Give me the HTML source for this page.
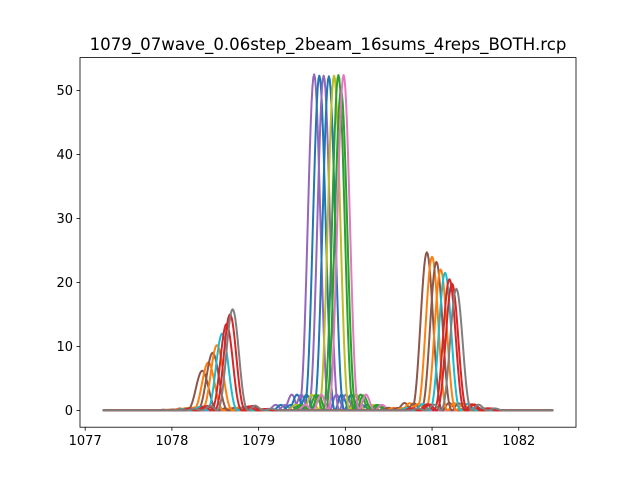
<!DOCTYPE html>
<html><head><meta charset="utf-8"><style>
body{margin:0;background:#fff;}
svg{display:block;font-family:"DejaVu Sans","Liberation Sans",sans-serif;}
</style></head><body>
<svg id="chart" width="640" height="480">
<rect width="640" height="480" fill="#fff"/>
<text x="328" y="50" font-size="16.6" text-anchor="middle">1079_07wave_0.06step_2beam_16sums_4reps_BOTH.rcp</text>
<g id="plot"></g>
<rect x="80" y="57.6" width="496" height="369.6" fill="none" stroke="#000" stroke-width="0.8"/>
<g id="xaxis"></g>
<g id="yaxis"></g>
</svg>
<script>
const xTicks=[1077,1078,1079,1080,1081,1082];
const yTicks=[0,10,20,30,40,50];
const centerPeaks=[1079.64,1079.70,1079.75,1079.81,1079.87,1079.92,1079.95,1079.98];
const centerHeights=[52.5,52.3,52.3,52.2,52.3,52.4,50,52.4];
const centerColors=['#9467bd','#1f77b4','#9467bd','#1f77b4','#bcbd22','#2ca02c','#2ca02c','#e377c2'];
const leftPeaks=[1078.35,1078.42,1078.47,1078.52,1078.58,1078.63,1078.67,1078.70];
const leftHeights=[6.2,7.5,9.0,10.2,12.0,13.5,15.0,15.8];
const rightPeaks=[1080.94,1081.00,1081.05,1081.10,1081.15,1081.20,1081.23,1081.28];
const rightHeights=[24.7,24.0,23.2,22.0,21.5,20.5,19.8,19.0];
const sideColors=['#8c564b','#ff7f0e','#8c564b','#ff7f0e','#17becf','#d62728','#d62728','#7f7f7f'];
const xMin=1077.2,xMax=1082.4;
const L=80,R=576,T=57.6,B=427.2,xlo=1076.94,xhi=1082.66,ylo=-2.625,yhi=55.125;
function X(v){return L+(v-xlo)/(xhi-xlo)*(R-L);}
function Y(v){return B-(v-ylo)/(yhi-ylo)*(B-T);}
function lobe(x,c,h,w){const u=(x-c)/w*Math.PI;const s=Math.abs(u)<1e-9?1:Math.sin(u)/u;const v=h*s*s;return Math.abs(x-c)<w*3?v:0;}
const NS="http://www.w3.org/2000/svg";
const plot=document.getElementById('plot');
function drawSeries(peaks,color,idx,kind){
  let d='';
  for(let i=0;i<=520;i++){const x=xMin+i*0.01;let y=0;for(const p of peaks)y+=lobe(x,p[0],p[1],0.18);d+=(i?'L':'M')+X(x).toFixed(2)+','+Y(y).toFixed(2);}
  const el=document.createElementNS(NS,'path');
  el.setAttribute('d',d);el.setAttribute('fill','none');el.setAttribute('stroke',color);el.setAttribute('stroke-width','2');el.setAttribute('stroke-linejoin','round');
  
  
  plot.appendChild(el);
}
centerPeaks.forEach((c,i)=>drawSeries([[c,centerHeights[i]]],centerColors[i],i,'center'));
leftPeaks.forEach((c,i)=>drawSeries([[c,leftHeights[i]],[rightPeaks[i],rightHeights[i]]],sideColors[i],i,'side'));
const xa=document.getElementById('xaxis');
xTicks.forEach(t=>{
  const l=document.createElementNS(NS,'line');l.setAttribute('x1',X(t));l.setAttribute('x2',X(t));l.setAttribute('y1',B);l.setAttribute('y2',B+3.5);l.setAttribute('stroke','#000');l.setAttribute('stroke-width','0.8');
  
  
  xa.appendChild(l);
  const tx=document.createElementNS(NS,'text');tx.setAttribute('x',X(t));tx.setAttribute('y',B+18);tx.setAttribute('font-size','13');tx.setAttribute('text-anchor','middle');tx.textContent=t;
  
  
  xa.appendChild(tx);
});
const ya=document.getElementById('yaxis');
yTicks.forEach(t=>{
  const l=document.createElementNS(NS,'line');l.setAttribute('x1',L-3.5);l.setAttribute('x2',L);l.setAttribute('y1',Y(t));l.setAttribute('y2',Y(t));l.setAttribute('stroke','#000');l.setAttribute('stroke-width','0.8');
  
  
  ya.appendChild(l);
  const tx=document.createElementNS(NS,'text');tx.setAttribute('x',L-7);tx.setAttribute('y',Y(t)+4.5);tx.setAttribute('font-size','13');tx.setAttribute('text-anchor','end');tx.textContent=t;
  
  
  ya.appendChild(tx);
});
</script>
</body></html>
